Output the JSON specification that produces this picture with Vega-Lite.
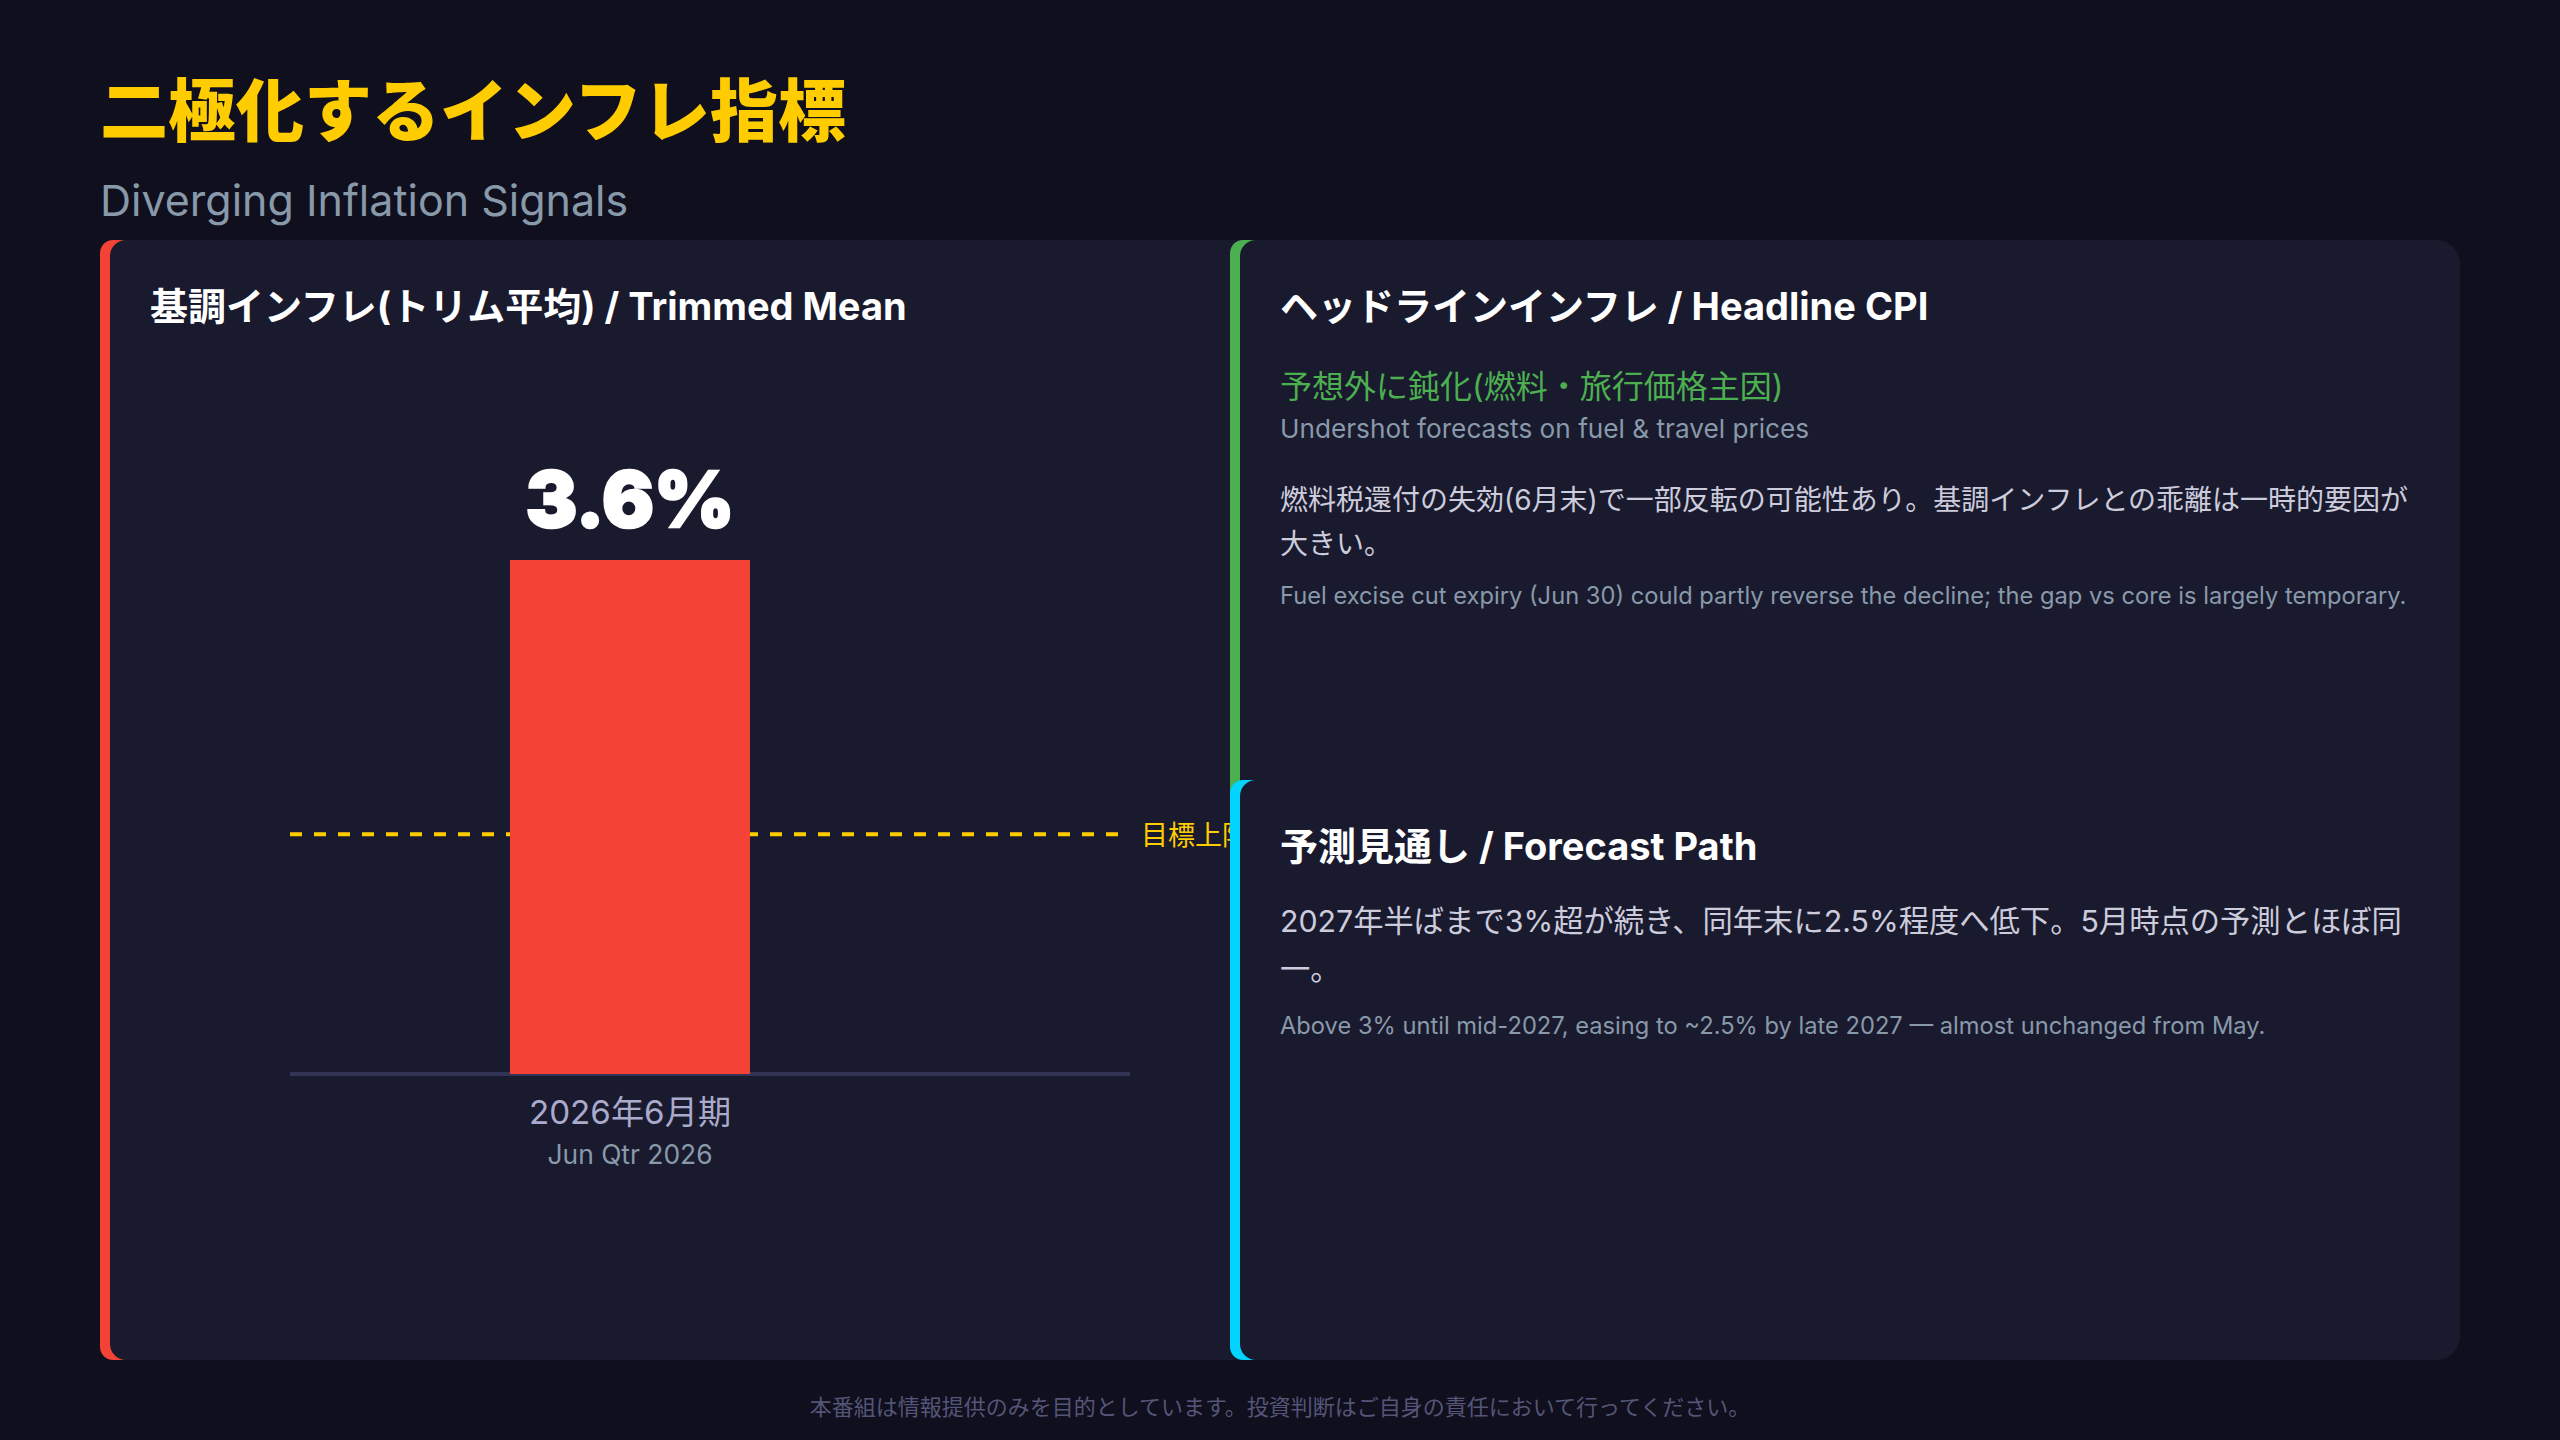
{
  "$schema": "https://vega.github.io/schema/vega-lite/v6.json",
  "width": 2560,
  "height": 1440,
  "autosize": {"type": "fit", "contains": "padding"},
  "padding": 0,
  "background": "#0f0f1e",
  "config": {
    "view": {"stroke": null},
    "text": {"font": "Inter, 'Noto Sans CJK JP'", "align": "left", "baseline": "alphabetic"}
  },
  "datasets": {
    "indicator": [
      {"period": "2026年6月期", "period_en": "Jun Qtr 2026", "value": 3.6, "label": "3.6%"}
    ],
    "rules": [
      {"rule": "baseline", "value": 0},
      {"rule": "target", "label": "目標上限", "value": 1.68}
    ],
    "accents": [
      {"card": "trimmed", "left": 1, "right": 3, "top": 3, "bottom": 16},
      {"card": "headline", "left": 5, "right": 7, "top": 3, "bottom": 11},
      {"card": "forecast", "left": 5, "right": 7, "top": 10, "bottom": 16}
    ],
    "panels": [
      {"card": "trimmed", "left": 2, "right": 9, "top": 3, "bottom": 16},
      {"card": "headline", "left": 6, "right": 10, "top": 3, "bottom": 11},
      {"card": "forecast", "left": 6, "right": 10, "top": 10, "bottom": 16}
    ],
    "texts": [
      {"role": "title", "col": 1, "row": 1, "text": "二極化するインフレ指標"},
      {"role": "subtitle", "col": 1, "row": 2, "text": "Diverging Inflation Signals"},
      {"role": "head", "col": 4, "row": 4, "text": "基調インフレ(トリム平均) / Trimmed Mean"},
      {"role": "head", "col": 8, "row": 4, "text": "ヘッドラインインフレ / Headline CPI"},
      {"role": "accent", "col": 8, "row": 5, "text": "予想外に鈍化(燃料・旅行価格主因)"},
      {"role": "note", "col": 8, "row": 6, "text": "Undershot forecasts on fuel & travel prices"},
      {"role": "body", "col": 8, "row": 7, "text": "燃料税還付の失効(6月末)で一部反転の可能性あり。基調インフレとの乖離は一時的要因が"},
      {"role": "body", "col": 8, "row": 8, "text": "大きい。"},
      {"role": "fine", "col": 8, "row": 9, "text": "Fuel excise cut expiry (Jun 30) could partly reverse the decline; the gap vs core is largely temporary."},
      {"role": "head", "col": 8, "row": 12, "text": "予測見通し / Forecast Path"},
      {"role": "lead", "col": 8, "row": 13, "text": "2027年半ばまで3%超が続き、同年末に2.5%程度へ低下。5月時点の予測とほぼ同"},
      {"role": "lead", "col": 8, "row": 14, "text": "一。"},
      {"role": "fine", "col": 8, "row": 15, "text": "Above 3% until mid-2027, easing to ~2.5% by late 2027 — almost unchanged from May."},
      {"role": "footer", "col": 8, "row": 17, "text": "本番組は情報提供のみを目的としています。投資判断はご自身の責任において行ってください。"}
    ]
  },
  "resolve": {"scale": {"x": "independent", "y": "independent", "color": "independent"}},
  "layer": [
    {
      "layer": [
        {
          "data": {"name": "accents"},
          "transform": [{"filter": "datum.card === 'trimmed'"}],
          "mark": {"type": "rect", "color": "#f44336", "cornerRadiusTopLeft": 24, "cornerRadiusBottomLeft": 24},
          "encoding": {
            "x": {"field": "left", "type": "quantitative", "axis": null, "scale": {"nice": false, "domain": [1, 2, 3, 4, 5, 6, 7, 8, 9, 10], "range": [100, 110, 126, 150, 1230, 1240, 1256, 1280, 1300, 2460]}},
            "x2": {"field": "right"},
            "y": {"field": "top", "type": "quantitative", "axis": null, "scale": {"nice": false, "domain": [1, 2, 3, 4, 5, 6, 7, 8, 9, 10, 11, 12, 13, 14, 15, 16, 17], "range": [136, 216, 240, 320, 398, 438, 510, 554, 604, 780, 810, 860, 932, 980, 1034, 1360, 1415]}},
            "y2": {"field": "bottom"}
          }
        },
        {
          "data": {"name": "panels"},
          "transform": [{"filter": "datum.card === 'trimmed'"}],
          "mark": {"type": "rect", "color": "#1a1a2e", "cornerRadiusTopLeft": 16, "cornerRadiusBottomLeft": 16},
          "encoding": {
            "x": {"field": "left", "type": "quantitative"},
            "x2": {"field": "right"},
            "y": {"field": "top", "type": "quantitative"},
            "y2": {"field": "bottom"}
          }
        }
      ]
    },
    {
      "resolve": {"scale": {"x": "independent"}},
      "layer": [
        {
          "data": {"name": "rules"},
          "layer": [
            {
              "transform": [{"filter": "datum.rule === 'baseline'"}],
              "mark": {"type": "rule", "color": "#333355", "strokeWidth": 4},
              "encoding": {
                "x": {"datum": 0, "type": "quantitative", "axis": null, "scale": {"nice": false, "domain": [0, 1], "range": [290, 1130]}},
                "x2": {"datum": 1},
                "y": {"field": "value", "type": "quantitative", "axis": null, "scale": {"nice": false, "domain": [0, 3.6], "range": [1074, 560]}}
              }
            },
            {
              "transform": [{"filter": "datum.rule === 'target'"}],
              "mark": {"type": "rule", "color": "#ffcc00", "strokeWidth": 4, "strokeDash": [12, 12]},
              "encoding": {
                "x": {"datum": 0, "type": "quantitative"},
                "x2": {"datum": 1},
                "y": {"field": "value", "type": "quantitative"}
              }
            },
            {
              "transform": [{"filter": "datum.rule === 'target'"}],
              "mark": {"type": "text", "color": "#ffcc00", "fontSize": 27, "dx": 11, "dy": 11},
              "encoding": {
                "x": {"datum": 1, "type": "quantitative"},
                "y": {"field": "value", "type": "quantitative"},
                "text": {"field": "label"}
              }
            }
          ]
        },
        {
          "data": {"name": "indicator"},
          "layer": [
            {
              "mark": {"type": "bar", "color": "#f44336"},
              "encoding": {
                "x": {"field": "period", "type": "nominal", "axis": null, "scale": {"domain": ["2026年6月期"], "range": [510, 750], "paddingInner": 0, "paddingOuter": 0}},
                "y": {"field": "value", "type": "quantitative"}
              }
            },
            {
              "mark": {"type": "text", "color": "#ffffff", "stroke": "#ffffff", "strokeWidth": 2.5, "fontSize": 77, "fontWeight": 900, "align": "center", "dy": -33},
              "encoding": {
                "x": {"field": "period", "type": "nominal"},
                "y": {"field": "value", "type": "quantitative"},
                "text": {"field": "label"}
              }
            },
            {
              "mark": {"type": "text", "color": "#aaaacc", "fontSize": 33.2, "align": "center", "dy": 50},
              "encoding": {
                "x": {"field": "period", "type": "nominal"},
                "y": {"datum": 0, "type": "quantitative"},
                "text": {"field": "period"}
              }
            },
            {
              "mark": {"type": "text", "color": "#8899aa", "fontSize": 26.4, "align": "center", "dy": 90},
              "encoding": {
                "x": {"field": "period", "type": "nominal"},
                "y": {"datum": 0, "type": "quantitative"},
                "text": {"field": "period_en"}
              }
            }
          ]
        }
      ]
    },
    {
      "layer": [
        {
          "data": {"name": "accents"},
          "transform": [{"filter": "datum.card === 'headline'"}],
          "mark": {"type": "rect", "color": "#4caf50", "cornerRadiusTopLeft": 24, "cornerRadiusBottomLeft": 24},
          "encoding": {
            "x": {"field": "left", "type": "quantitative", "axis": null, "scale": {"nice": false, "domain": [1, 2, 3, 4, 5, 6, 7, 8, 9, 10], "range": [100, 110, 126, 150, 1230, 1240, 1256, 1280, 1300, 2460]}},
            "x2": {"field": "right"},
            "y": {"field": "top", "type": "quantitative", "axis": null, "scale": {"nice": false, "domain": [1, 2, 3, 4, 5, 6, 7, 8, 9, 10, 11, 12, 13, 14, 15, 16, 17], "range": [136, 216, 240, 320, 398, 438, 510, 554, 604, 780, 810, 860, 932, 980, 1034, 1360, 1415]}},
            "y2": {"field": "bottom"}
          }
        },
        {
          "data": {"name": "panels"},
          "transform": [{"filter": "datum.card === 'headline'"}],
          "mark": {"type": "rect", "color": "#1a1a2e", "cornerRadiusTopLeft": 16, "cornerRadiusBottomLeft": 16, "cornerRadiusTopRight": 24},
          "encoding": {
            "x": {"field": "left", "type": "quantitative"},
            "x2": {"field": "right"},
            "y": {"field": "top", "type": "quantitative"},
            "y2": {"field": "bottom"}
          }
        },
        {
          "data": {"name": "accents"},
          "transform": [{"filter": "datum.card === 'forecast'"}],
          "mark": {"type": "rect", "color": "#00d4ff", "cornerRadiusTopLeft": 24, "cornerRadiusBottomLeft": 24},
          "encoding": {
            "x": {"field": "left", "type": "quantitative"},
            "x2": {"field": "right"},
            "y": {"field": "top", "type": "quantitative"},
            "y2": {"field": "bottom"}
          }
        },
        {
          "data": {"name": "panels"},
          "transform": [{"filter": "datum.card === 'forecast'"}],
          "mark": {"type": "rect", "color": "#1a1a2e", "cornerRadiusTopLeft": 16, "cornerRadiusBottomLeft": 16, "cornerRadiusBottomRight": 24},
          "encoding": {
            "x": {"field": "left", "type": "quantitative"},
            "x2": {"field": "right"},
            "y": {"field": "top", "type": "quantitative"},
            "y2": {"field": "bottom"}
          }
        },
        {
          "data": {"name": "texts"},
          "encoding": {
            "x": {"field": "col", "type": "quantitative"},
            "y": {"field": "row", "type": "quantitative"},
            "text": {"field": "text"}
          },
          "layer": [
            {"transform": [{"filter": "datum.role === 'title'"}], "mark": {"type": "text", "color": "#ffcc00", "fontSize": 68, "fontWeight": 900}},
            {"transform": [{"filter": "datum.role === 'subtitle'"}], "mark": {"type": "text", "color": "#8899aa", "fontSize": 43}},
            {"transform": [{"filter": "datum.role === 'head'"}], "mark": {"type": "text", "color": "#ffffff", "fontSize": 38, "fontWeight": 700}},
            {"transform": [{"filter": "datum.role === 'accent'"}], "mark": {"type": "text", "color": "#4caf50", "fontSize": 32}},
            {"transform": [{"filter": "datum.role === 'note'"}], "mark": {"type": "text", "color": "#8899aa", "fontSize": 26.2}},
            {"transform": [{"filter": "datum.role === 'body'"}], "mark": {"type": "text", "color": "#ccccdd", "fontSize": 28}},
            {"transform": [{"filter": "datum.role === 'lead'"}], "mark": {"type": "text", "color": "#ccccdd", "fontSize": 30.3}},
            {"transform": [{"filter": "datum.role === 'fine'"}], "mark": {"type": "text", "color": "#8899aa", "fontSize": 23.7}},
            {"transform": [{"filter": "datum.role === 'footer'"}], "mark": {"type": "text", "color": "#555577", "fontSize": 22, "align": "center"}}
          ]
        }
      ]
    }
  ]
}
